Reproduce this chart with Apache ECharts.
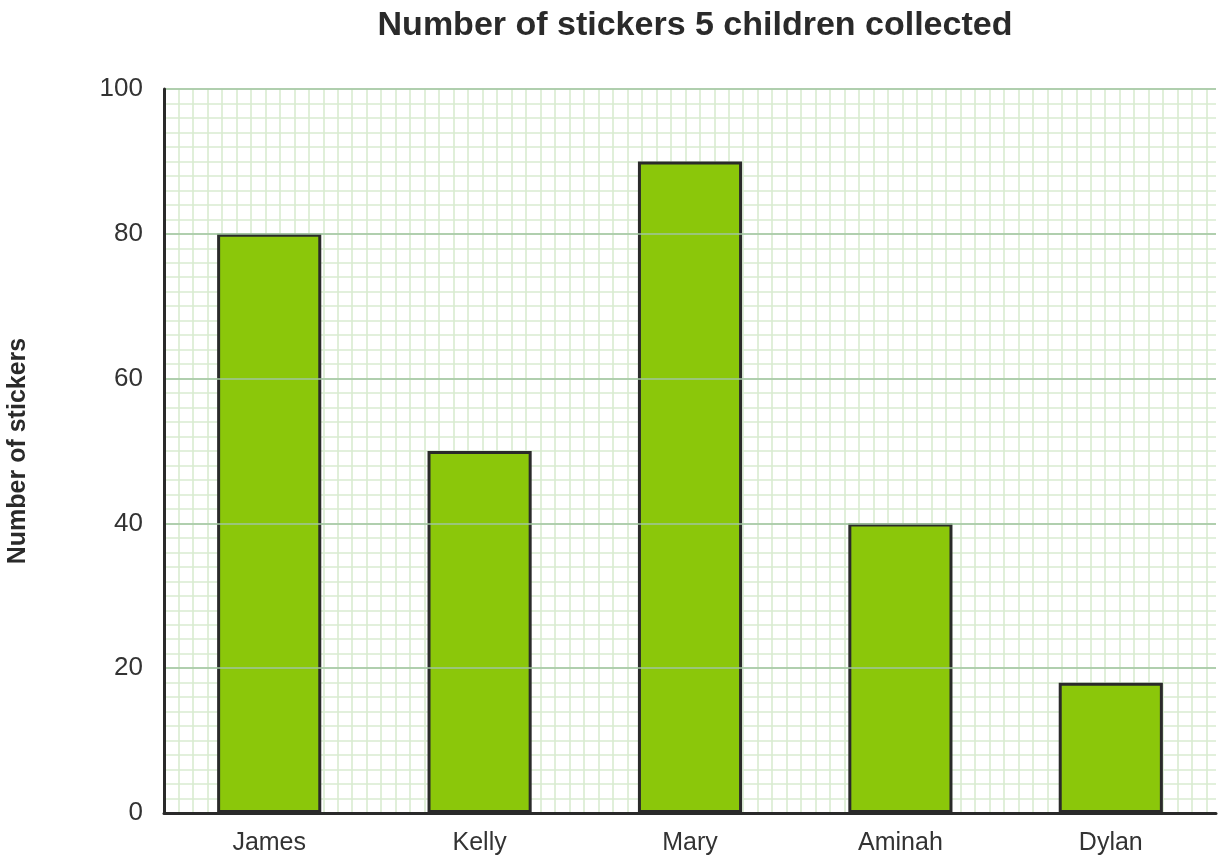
<!DOCTYPE html>
<html>
<head>
<meta charset="utf-8">
<script src="https://cdn.jsdelivr.net/npm/echarts@6/dist/echarts.min.js"></script>
<style>html,body{margin:0;padding:0;background:#fff}#c{width:1224px;height:866px}</style>
</head>
<body>
<div id="c"></div>
<script>
const categories = ['James', 'Kelly', 'Mary', 'Aminah', 'Dylan'];
const stickers = [80, 50, 90, 40, 18];
const yTicks = [0, 20, 40, 60, 80, 100];

const chart = echarts.init(document.getElementById('c'));
const FONT = '"Liberation Sans", Arial, sans-serif';
chart.setOption({
  animation: false,
  title: {
    text: 'Number of stickers 5 children collected',
    left: 690, top: 4, textAlign: 'center',
    textStyle: { fontFamily: FONT, fontSize: 34, fontWeight: 'bold', color: '#2a2a2a' }
  },
  grid: { left: 164, right: 8, top: 89, bottom: 53, containLabel: false, outerBoundsMode: 'none' },
  xAxis: [
    {
      type: 'category', data: categories, z: 3,
      axisLine: { show: true, lineStyle: { color: '#2a2a2a', width: 3 } },
      axisTick: { show: false },
      axisLabel: { fontFamily: FONT, fontSize: 25, color: '#333', margin: 18 },
      splitLine: { show: false }
    },
    {
      type: 'value', min: 0, max: 72.65, interval: 1, z: 0,
      axisLine: { show: false }, axisTick: { show: false }, axisLabel: { show: false },
      splitLine: { show: true, showMinLine: false, showMaxLine: false, lineStyle: { color: '#d9ebd0', width: 1.6 } }
    }
  ],
  yAxis: [
    {
      type: 'value', min: yTicks[0], max: yTicks[yTicks.length - 1], interval: 20, z: 3,
      name: 'Number of stickers', nameLocation: 'middle', nameGap: 133,
      nameTextStyle: { fontFamily: FONT, fontSize: 25, fontWeight: 'bold', color: '#2a2a2a' },
      axisLine: { show: true, lineStyle: { color: '#2a2a2a', width: 3 } },
      axisTick: { show: false },
      axisLabel: { fontFamily: FONT, fontSize: 26, color: '#333', margin: 21 },
      splitLine: { show: true, lineStyle: { color: '#9fc59f', width: 1.6 } }
    },
    {
      type: 'value', min: 0, max: 100, interval: 2, z: 0,
      axisLine: { show: false }, axisTick: { show: false }, axisLabel: { show: false },
      splitLine: { show: true, lineStyle: { color: '#d9ebd0', width: 1.6 } }
    }
  ],
  series: [{
    type: 'bar', data: stickers, barWidth: '49.5%', z: 2,
    itemStyle: { color: '#8bc70a', borderColor: '#2a2a2a', borderWidth: 3 }
  }]
});
</script>
</body>
</html>
